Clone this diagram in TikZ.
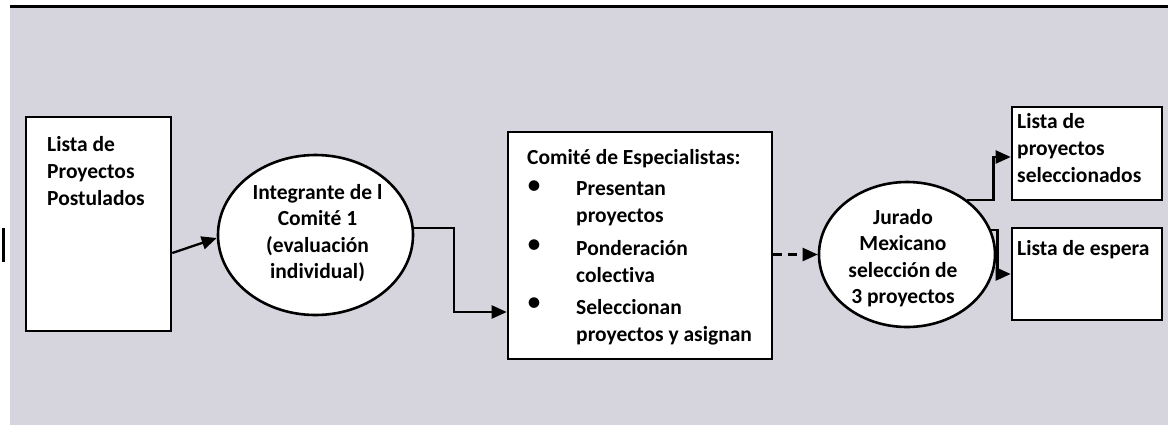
\documentclass[tikz,border=0pt]{standalone}
\usepackage{fontspec}
\setmainfont{Carlito}[Ligatures={NoCommon}]
\usetikzlibrary{shapes.geometric,arrows.meta,calc}
\definecolor{bgfill}{RGB}{214,212,221}
\tikzset{
  boxn/.style={draw=black,line width=2.6pt,fill=white,rectangle,inner sep=0pt},
  elln/.style={draw=black,line width=2.6pt,fill=white,ellipse,inner sep=0pt},
  txt/.style={font=\bfseries\fontsize{21.5}{27}\selectfont,inner sep=0pt,align=left},
  ctxt/.style={font=\bfseries\fontsize{21.5}{26.5}\selectfont,inner sep=0pt,align=center},
  bul/.style={font=\fontsize{30}{30}\selectfont,inner sep=0pt},
  arr/.style={line width=2.3pt,-{Triangle[length=15pt,width=13pt]}},
}
\begin{document}
\begin{tikzpicture}[x=1pt,y=-1pt]
\useasboundingbox (0,0) rectangle (1168,432);
\fill[white] (0,0) rectangle (1168,432);
\fill[bgfill] (10,8) rectangle (1168,425);
\draw[line width=3pt] (10,6.5) -- (1168,6.5);
\draw[line width=3pt] (3,228) -- (3,262);

% boxes
\node[boxn,minimum width=145pt,minimum height=214pt] (b1) at (98.5,224) {};
\node[txt,anchor=north west] (t1) at (47,136) {Lista de\\Proyectos\\Postulados};

\node[elln,minimum width=195pt,minimum height=160pt] (e1) at (315.5,235) {};
\node[ctxt] (t2) at (317.5,233) {Integrante de l\\Comité 1\\(evaluación\\individual)};

\node[boxn,minimum width=264pt,minimum height=227pt] (b2) at (640,245.5) {};
\node[txt,anchor=west] (t3h) at (527,159) {Comité de Especialistas:};
\node[bul] (bu1) at (534,188) {•};
\node[txt,anchor=north west] (t3a) at (576,181) {Presentan\\proyectos};
\node[bul] (bu2) at (534,247) {•};
\node[txt,anchor=north west] (t3b) at (576,240) {Ponderación\\colectiva};
\node[bul] (bu3) at (534,305) {•};
\node[txt,anchor=north west] (t3c) at (576,299) {Seleccionan\\proyectos y asignan};

\node[elln,minimum width=176pt,minimum height=145pt] (e2) at (907,254.5) {};
\node[ctxt] (t4) at (903,258) {Jurado\\Mexicano\\selección de\\3 proyectos};

\node[boxn,minimum width=150pt,minimum height=93pt] (b3) at (1087,153.5) {};
\node[txt,anchor=north west] (t5) at (1017,113) {Lista de\\proyectos\\seleccionados};

\node[boxn,minimum width=150pt,minimum height=92pt] (b4) at (1087,274) {};
\node[txt,anchor=west] (t6) at (1017,250) {Lista de espera};

% connectors
\draw[arr] ([yshift=-29pt]b1.east) -- ([yshift=-3pt]e1.west);
\draw[arr] ([yshift=7pt]e1.east) -- ++(40,0) |- ([yshift=-66.5pt]b2.west);
\draw[arr,dash pattern=on 9pt off 6pt] (b2.east |- e2.west) -- (e2.west);
\draw[arr] (e2.42) -- ++(26,0) |- ([yshift=-3.5pt]b3.west);
\draw[arr] (e2.16) -- ++(6,0) |- (b4.west);
\end{tikzpicture}
\end{document}
